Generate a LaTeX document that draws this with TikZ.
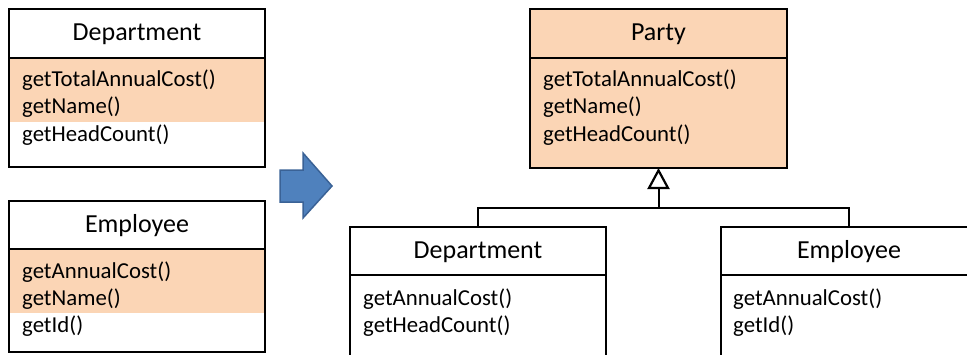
\documentclass[tikz,border=0pt]{standalone}
\usepackage{fontspec}
\setmainfont{Carlito}
\usetikzlibrary{arrows.meta}
\definecolor{peach}{HTML}{FBD5B5}
\definecolor{arrowblue}{HTML}{4F81BD}
\definecolor{arrowedge}{HTML}{3A6296}
\begin{document}
\begin{tikzpicture}[x=1pt,y=-1pt,
  umlpart/.style={draw, line width=2pt, anchor=north west, inner sep=0pt, outer sep=0pt, minimum width=256pt},
  hdr/.style={anchor=base, inner sep=0pt, font=\fontsize{26}{30}\selectfont},
  meth/.style={anchor=base west, inner sep=0pt, font=\fontsize{22.8}{27}\selectfont},
  link/.style={draw, line width=2pt}]
\useasboundingbox (0,0) rectangle (967,354);
\begin{scope}
\clip (0,0) rectangle (967,354);
% ---------- left Department ----------
\fill[peach] (9,58) rectangle (265,122);
\node[umlpart, minimum height=49pt] (d1h) at (9,9) {};
\node[umlpart, minimum height=109pt] (d1b) at (9,58) {};
\node[hdr] (d1t) at (137,40) {Department};
\node[meth] (d1m1) at (22,86) {getTotalAnnualCost()};
\node[meth] (d1m2) at (22,113) {getName()};
\node[meth] (d1m3) at (22,141) {getHeadCount()};
% ---------- left Employee ----------
\fill[peach] (9,249) rectangle (265,313);
\node[umlpart, minimum height=48pt] (e1h) at (9,201) {};
\node[umlpart, minimum height=103pt] (e1b) at (9,249) {};
\node[hdr] (e1t) at (137,232) {Employee};
\node[meth] (e1m1) at (22,278) {getAnnualCost()};
\node[meth] (e1m2) at (22,305) {getName()};
\node[meth] (e1m3) at (22,332) {getId()};
% ---------- block arrow ----------
\filldraw[fill=arrowblue, draw=arrowedge, line width=1.5pt, line join=miter]
  (280,170) -- (303,170) -- (303,153) -- (332,186) -- (303,218) -- (303,202) -- (280,202) -- cycle;
% ---------- Party ----------
\node[umlpart, fill=peach, minimum width=257pt, minimum height=49pt] (ph) at (530,9) {};
\node[umlpart, fill=peach, minimum width=257pt, minimum height=110pt] (pb) at (530,58) {};
\node[hdr] (pt) at (658.5,40) {Party};
\node[meth] (pm1) at (543,86) {getTotalAnnualCost()};
\node[meth] (pm2) at (543,113) {getName()};
\node[meth] (pm3) at (543,141) {getHeadCount()};
% ---------- bottom Department ----------
\node[umlpart, minimum height=48pt] (d2h) at (350,227) {};
\node[umlpart, minimum height=140pt] (d2b) at (350,275) {};
\node[hdr] (d2t) at (478,258) {Department};
\node[meth] (d2m1) at (363,305) {getAnnualCost()};
\node[meth] (d2m2) at (363,332) {getHeadCount()};
% ---------- bottom Employee ----------
\node[umlpart, minimum height=48pt] (e2h) at (721,227) {};
\node[umlpart, minimum height=140pt] (e2b) at (721,275) {};
\node[hdr] (e2t) at (849,258) {Employee};
\node[meth] (e2m1) at (733,305) {getAnnualCost()};
\node[meth] (e2m2) at (733,332) {getId()};
% ---------- generalization ----------
\coordinate (j) at (658.5,208);
\path[link] (d2h.north) |- (j) -| (e2h.north);
\draw[link, -{Triangle[open, length=21pt, width=22pt, line width=2.2pt]}] (j) -- (pb.south);
\end{scope}
\end{tikzpicture}
\end{document}
